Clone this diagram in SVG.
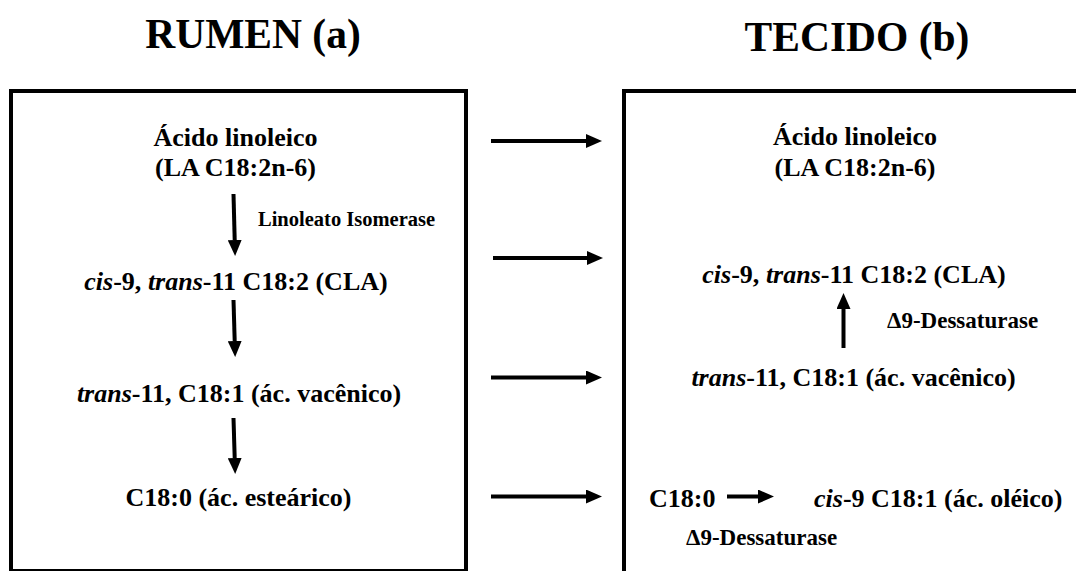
<svg xmlns="http://www.w3.org/2000/svg" width="1076" height="571" viewBox="0 0 1076 571">
  <style>
    text { font-family: "Liberation Serif", "Times New Roman", serif; font-weight: bold; fill: #000; }
    .title { font-size: 41.5px; text-anchor: middle; }
    .t { font-size: 26px; text-anchor: middle; }
    .ts { font-size: 26px; }
    .enz { font-size: 20.5px; }
    .enz2 { font-size: 23px; }
    .it { font-style: italic; }
    .box { fill: none; stroke: #000; stroke-width: 4; }
    .arr { fill: none; stroke: #000; stroke-width: 4; marker-end: url(#ah); }
  </style>
  <defs>
    <marker id="ah" viewBox="0 0 16 14" markerWidth="16" markerHeight="14" refX="0" refY="7" orient="auto" markerUnits="userSpaceOnUse">
      <path d="M0,0 L16,7 L0,14 Z" fill="#000"/>
    </marker>
  </defs>
  <rect width="1076" height="571" fill="#fff"/>

  <g id="title-rumen"><text class="title" x="253" y="48">RUMEN (a)</text></g>
  <g id="title-tecido"><text class="title" x="857" y="51">TECIDO (b)</text></g>

  <g id="box-rumen"><rect class="box" x="11" y="91" width="455" height="480"/></g>
  <g id="box-tecido"><rect class="box" x="624" y="91" width="470" height="500"/></g>

  <g id="rumen-la">
    <text class="t" x="235.5" y="146">Ácido linoleico</text>
    <text class="t" x="235.5" y="176">(LA C18:2n-6)</text>
  </g>
  <g id="rumen-enzyme"><text class="enz" x="258" y="226">Linoleato Isomerase</text></g>
  <g id="rumen-cla"><text class="t" x="236" y="290"><tspan class="it">cis</tspan>-9, <tspan class="it">trans</tspan>-11 C18:2 (CLA)</text></g>
  <g id="rumen-vac"><text class="t" x="239" y="402"><tspan class="it">trans</tspan>-11, C18:1 (ác. vacênico)</text></g>
  <g id="rumen-est"><text class="t" x="238.5" y="506">C18:0 (ác. esteárico)</text></g>

  <g id="tecido-la">
    <text class="t" x="855" y="145">Ácido linoleico</text>
    <text class="t" x="855" y="176">(LA C18:2n-6)</text>
  </g>
  <g id="tecido-cla"><text class="t" x="854" y="283"><tspan class="it">cis</tspan>-9, <tspan class="it">trans</tspan>-11 C18:2 (CLA)</text></g>
  <g id="tecido-enzyme1"><text class="enz2" x="887" y="328">Δ9-Dessaturase</text></g>
  <g id="tecido-vac"><text class="t" x="853.5" y="386"><tspan class="it">trans</tspan>-11, C18:1 (ác. vacênico)</text></g>
  <g id="tecido-est"><text class="ts" x="649" y="507">C18:0</text></g>
  <g id="tecido-ole"><text class="ts" x="814" y="507"><tspan class="it">cis</tspan>-9 C18:1 (ác. oléico)</text></g>
  <g id="tecido-enzyme2"><text class="enz2" x="686" y="545">Δ9-Dessaturase</text></g>

  <g id="connectors">
    <path class="arr" d="M233.5,194 L234.7,240"/>
    <path class="arr" d="M233.5,300 L234.7,341"/>
    <path class="arr" d="M233.5,418 L234.7,458"/>
    <path class="arr" d="M491,141 L586,141"/>
    <path class="arr" d="M493,258 L587,258"/>
    <path class="arr" d="M491,377.5 L586,377.5"/>
    <path class="arr" d="M491,496.5 L586,496.5"/>
    <path class="arr" d="M843.5,348 L843.5,309"/>
    <path class="arr" d="M727,496.5 L758,496.5"/>
  </g>
</svg>
